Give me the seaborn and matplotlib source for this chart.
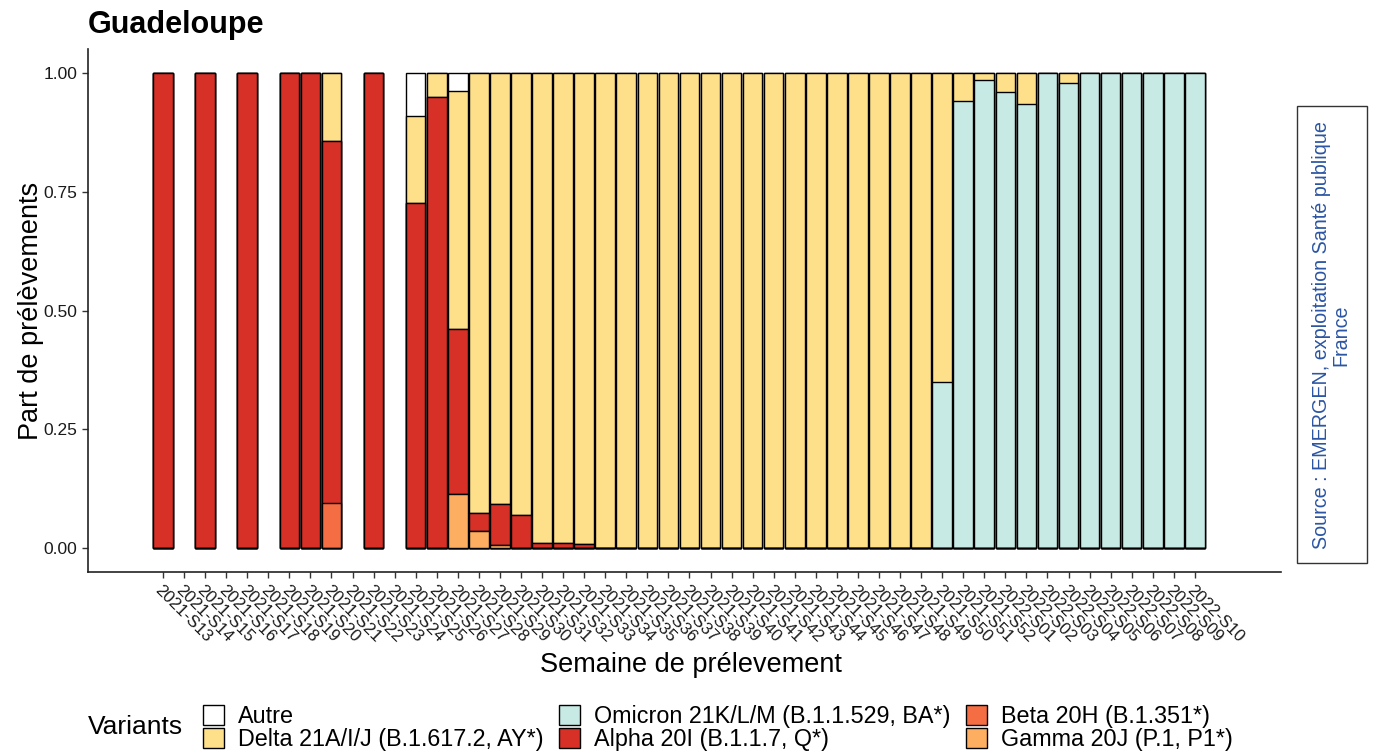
import numpy as np
import pandas as pd
import matplotlib
matplotlib.use("Agg")
import matplotlib.pyplot as plt
import matplotlib.patches as mpatches
import seaborn as sns

_ = np.nan  # semaine sans séquençage

weeks = [
    "2021-S13", "2021-S14", "2021-S15", "2021-S16", "2021-S17", "2021-S18", "2021-S19", "2021-S20", "2021-S21", "2021-S22",
    "2021-S23", "2021-S24", "2021-S25", "2021-S26", "2021-S27", "2021-S28", "2021-S29", "2021-S30", "2021-S31", "2021-S32",
    "2021-S33", "2021-S34", "2021-S35", "2021-S36", "2021-S37", "2021-S38", "2021-S39", "2021-S40", "2021-S41", "2021-S42",
    "2021-S43", "2021-S44", "2021-S45", "2021-S46", "2021-S47", "2021-S48", "2021-S49", "2021-S50", "2021-S51", "2021-S52",
    "2022-S01", "2022-S02", "2022-S03", "2022-S04", "2022-S05", "2022-S06", "2022-S07", "2022-S08", "2022-S09", "2022-S10",
]

autre = [
    0, _, 0, _, 0, _, 0, 0, 0, _,
    0, _, 0.091, 0, 0.038, 0, 0, 0, 0, 0,
    0, 0, 0, 0, 0, 0, 0, 0, 0, 0,
    0, 0, 0, 0, 0, 0, 0, 0, 0, 0,
    0, 0, 0, 0, 0, 0, 0, 0, 0, 0,
]
delta = [
    0, _, 0, _, 0, _, 0, 0, 0.143, _,
    0, _, 0.182, 0.05, 0.5, 0.926, 0.908, 0.931, 0.988, 0.99,
    0.992, 1, 1, 1, 1, 1, 1, 1, 1, 1,
    1, 1, 1, 1, 1, 1, 1, 0.65, 0.06, 0.016,
    0.04, 0.066, 0, 0.021, 0, 0, 0, 0, 0, 0,
]
omicron = [
    0, _, 0, _, 0, _, 0, 0, 0, _,
    0, _, 0, 0, 0, 0, 0, 0, 0, 0,
    0, 0, 0, 0, 0, 0, 0, 0, 0, 0,
    0, 0, 0, 0, 0, 0, 0, 0.35, 0.94, 0.984,
    0.96, 0.934, 1, 0.979, 1, 1, 1, 1, 1, 1,
]
alpha = [
    1, _, 1, _, 1, _, 1, 1, 0.762, _,
    1, _, 0.727, 0.95, 0.347, 0.038, 0.086, 0.069, 0.012, 0.01,
    0.008, 0, 0, 0, 0, 0, 0, 0, 0, 0,
    0, 0, 0, 0, 0, 0, 0, 0, 0, 0,
    0, 0, 0, 0, 0, 0, 0, 0, 0, 0,
]
beta = [
    0, _, 0, _, 0, _, 0, 0, 0.095, _,
    0, _, 0, 0, 0, 0, 0, 0, 0, 0,
    0, 0, 0, 0, 0, 0, 0, 0, 0, 0,
    0, 0, 0, 0, 0, 0, 0, 0, 0, 0,
    0, 0, 0, 0, 0, 0, 0, 0, 0, 0,
]
gamma = [
    0, _, 0, _, 0, _, 0, 0, 0, _,
    0, _, 0, 0, 0.115, 0.036, 0.006, 0, 0, 0,
    0, 0, 0, 0, 0, 0, 0, 0, 0, 0,
    0, 0, 0, 0, 0, 0, 0, 0, 0, 0,
    0, 0, 0, 0, 0, 0, 0, 0, 0, 0,
]

variant_labels = [
    "Autre",
    "Delta 21A/I/J (B.1.617.2, AY*)",
    "Omicron 21K/L/M (B.1.1.529, BA*)",
    "Alpha 20I (B.1.1.7, Q*)",
    "Beta 20H (B.1.351*)",
    "Gamma 20J (P.1, P1*)",
]
variant_colors = ["#FFFFFF", "#FEE08B", "#C7EAE5", "#D73027", "#F46D43", "#FDAE61"]

sns.set_style("ticks")
plt.rcParams["font.family"] = ["Liberation Sans", "DejaVu Sans"]
plt.rcParams["text.color"] = "black"
plt.rcParams["axes.labelcolor"] = "black"

# proportions -> cumulative heights (stack from bottom: Gamma ... Autre)
df = pd.DataFrame({
    "semaine": weeks,
    "Autre": autre, "Delta": delta, "Omicron": omicron,
    "Alpha": alpha, "Beta": beta, "Gamma": gamma,
})
keys = ["Autre", "Delta", "Omicron", "Alpha", "Beta", "Gamma"]
cum = df[keys[::-1]].cumsum(axis=1)

fig = plt.figure(figsize=(13.74, 7.51), dpi=100)
ax = fig.add_axes([88 / 1374, 1 - 572 / 751, (1281 - 88) / 1374, (572 - 49) / 751])

# draw tallest cumulative first, then overlay the lower ones
for key, color in zip(keys, variant_colors):
    layer = pd.DataFrame({"semaine": weeks, "h": cum[key]})
    sns.barplot(data=layer, x="semaine", y="h", order=weeks, color=color,
                saturation=1, edgecolor="black", linewidth=1.0, width=0.93,
                errorbar=None, ax=ax)

ax.set_xlim(-3.56, 53.09)
ax.set_ylim(-0.05, 1.05)
ax.set_yticks([0, 0.25, 0.5, 0.75, 1.0])
ax.set_yticklabels(["0.00", "0.25", "0.50", "0.75", "1.00"], fontsize=12.5, color="#1a1a1a")
ax.set_xticks(range(len(weeks)))
ax.set_xticklabels(weeks, rotation=-45, ha="left", va="top", rotation_mode="anchor",
                   fontsize=12.2, color="#1a1a1a")
ax.tick_params(axis="both", length=4, width=1, color="#333333")
sns.despine(ax=ax)
for s in ["left", "bottom"]:
    ax.spines[s].set_color("#222222")
    ax.spines[s].set_linewidth(1.2)

ax.set_ylabel("Part de prélèvements", fontsize=19.5)
ax.yaxis.set_label_coords(-0.037, 0.5)
ax.set_xlabel("Semaine de prélevement", fontsize=19.5)
ax.xaxis.set_label_coords(0.505, -0.153)

fig.text(88 / 1374, 1 - 33 / 751, "Guadeloupe", fontsize=22, fontweight="bold",
         ha="left", va="baseline")

# legend
handles = [mpatches.Patch(facecolor=c, edgecolor="black", linewidth=1.0) for c in variant_colors]
fig.text(88 / 1374, 1 - 727 / 751, "Variants", fontsize=19, ha="left", va="center")
fig.legend(handles, variant_labels, ncol=3, loc="center left",
           bbox_to_anchor=(187 / 1374, 1 - 728 / 751), frameon=False, fontsize=16.8,
           handlelength=0.88, handleheight=0.93, labelspacing=0.0,
           handletextpad=0.6, columnspacing=0.68, borderpad=0.2)

# source caption box
box = mpatches.Rectangle((1297 / 1374, 1 - 563 / 751), 70 / 1374, 457 / 751,
                         transform=fig.transFigure, facecolor="white",
                         edgecolor="#333333", linewidth=1.0)
fig.patches.append(box)
fig.text(1331 / 1374, 1 - 335 / 751, "Source : EMERGEN, exploitation Santé publique\nFrance",
         rotation=90, ha="center", va="center", multialignment="center",
         fontsize=14.2, color="#2B55A3", linespacing=1.0)

fig.savefig("out.png", dpi=100)
